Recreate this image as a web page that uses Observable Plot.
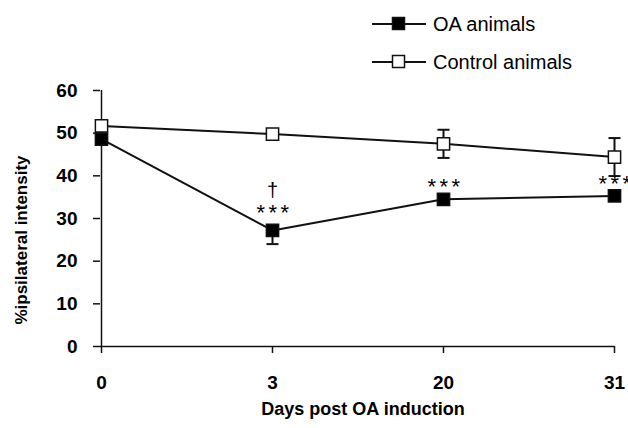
<!DOCTYPE html>
<html><head><meta charset="utf-8">
<script src="https://cdn.jsdelivr.net/npm/d3@7"></script>
<script src="https://cdn.jsdelivr.net/npm/@observablehq/plot@0.6"></script>
<style>
body{margin:0;background:#fff;font-family:"Liberation Sans",Arial,sans-serif;color:#000}
#wrap{position:relative;width:628px;height:428px;overflow:hidden}
#legend{position:absolute;left:372px;top:5px;font-size:20px}
.row{display:flex;align-items:center;height:38px}
.row svg{margin-right:7px}
#ytitle{position:absolute;left:22px;top:240px;transform:translate(-50%,-50%) rotate(-90deg);font-size:17px;font-weight:bold;white-space:nowrap}
#xtitle{position:absolute;left:363px;top:409px;transform:translate(-50%,-50%);font-size:18px;font-weight:bold;white-space:nowrap}
</style></head><body>
<div id="wrap"><div id="chart"></div><div id="legend"></div><div id="ytitle"></div><div id="xtitle"></div></div>
<script>
const days = ["0", "3", "20", "31"];
const seriesNames = ["OA animals", "Control animals"];
const oaMean = [48.6, 27.2, 34.5, 35.3];
const oaErrMinus = [1.0, 3.2, 1.0, 1.0];
const ctrlMean = [51.7, 49.8, 47.5, 44.4];
const ctrlErr = [1.0, 1.0, 3.3, 4.45];
const yTicks = [0, 10, 20, 30, 40, 50, 60];
const sigText = ["", "***", "***", "***"];
const sigY = [null, 31.4, 37.3, 38.1];
const daggerText = ["", "\u2020", "", ""];
const daggerY = [null, 36.6, null, null];
const yTitle = "%ipsilateral intensity";
const xTitle = "Days post OA induction";

const oaRows = days.map((d, i) => ({day: d, mean: oaMean[i], lo: oaMean[i] - oaErrMinus[i], hi: oaMean[i], series: seriesNames[0]}));
const ctrlRows = days.map((d, i) => ({day: d, mean: ctrlMean[i], lo: ctrlMean[i] - ctrlErr[i], hi: ctrlMean[i] + ctrlErr[i], series: seriesNames[1]}));
const allRows = ctrlRows.concat(oaRows);
const sigRows = days.map((d, i) => ({day: d, y: sigY[i], t: sigText[i]})).filter(r => r.t);
const dagRows = days.map((d, i) => ({day: d, y: daggerY[i], t: daggerText[i]})).filter(r => r.t);

const capSymbol = {draw(ctx, size) { const w = Math.sqrt(size); ctx.moveTo(-w, 0); ctx.lineTo(w, 0); }};
const ink = "#111";

const chart = Plot.plot({
  width: 628, height: 428,
  marginLeft: 100, marginRight: 14, marginTop: 90, marginBottom: 82,
  style: {fontFamily: '"Liberation Sans", Arial, sans-serif', color: "#000", background: "#fff", overflow: "visible"},
  x: {type: "point", domain: days, padding: 0, axis: null},
  y: {domain: [0, 60], axis: null},
  marks: [
    Plot.axisY({ticks: yTicks, tickSize: 7, tickPadding: 16, fontSize: 19, fontWeight: "bold", strokeWidth: 1.5, stroke: ink, label: null}),
    Plot.axisX({tickSize: 7, tickPadding: 22, fontSize: 19, fontWeight: "bold", strokeWidth: 1.5, stroke: ink, label: null}),
    Plot.ruleY([0], {stroke: ink, strokeWidth: 1.5}),
    Plot.ruleX([days[0]], {y1: 0, y2: 60, stroke: ink, strokeWidth: 1.5}),
    Plot.line(allRows, {x: "day", y: "mean", z: "series", stroke: ink, strokeWidth: 2}),
    Plot.ruleX(allRows, {x: "day", y1: "lo", y2: "hi", stroke: ink, strokeWidth: 2}),
    Plot.dot(allRows, {x: "day", y: "lo", symbol: capSymbol, r: 3.4, stroke: ink, strokeWidth: 2}),
    Plot.dot(ctrlRows, {x: "day", y: "hi", symbol: capSymbol, r: 3.4, stroke: ink, strokeWidth: 2}),
    Plot.dot(ctrlRows, {x: "day", y: "mean", symbol: "square", r: 6.9, fill: "#fff", stroke: ink, strokeWidth: 1.5}),
    Plot.dot(oaRows, {x: "day", y: "mean", symbol: "square", r: 6.9, fill: "#000", stroke: ink, strokeWidth: 1.5}),
    Plot.text(sigRows, {x: "day", y: "y", text: "t", fontSize: 22, dx: 2}),
    Plot.text(dagRows, {x: "day", y: "y", text: "t", fontSize: 20, fill: "#000"})
  ]
});
document.getElementById("chart").appendChild(chart);
chart.querySelectorAll("text").forEach(t => { if (/^\*+$/.test(t.textContent)) t.setAttribute("letter-spacing", "3.5"); });

document.getElementById("ytitle").textContent = yTitle;
document.getElementById("xtitle").textContent = xTitle;

const legend = document.getElementById("legend");
seriesNames.forEach((name, i) => {
  const row = document.createElement("div");
  row.className = "row";
  const fill = i === 0 ? "#000" : "#fff";
  row.innerHTML = `<svg width="54" height="16"><line x1="0" x2="54" y1="8" y2="8" stroke="${ink}" stroke-width="2"/><rect x="20.5" y="1.5" width="12" height="12" fill="${fill}" stroke="${ink}" stroke-width="1.5"/></svg><span>${name}</span>`;
  legend.appendChild(row);
});
</script>
</body></html>
